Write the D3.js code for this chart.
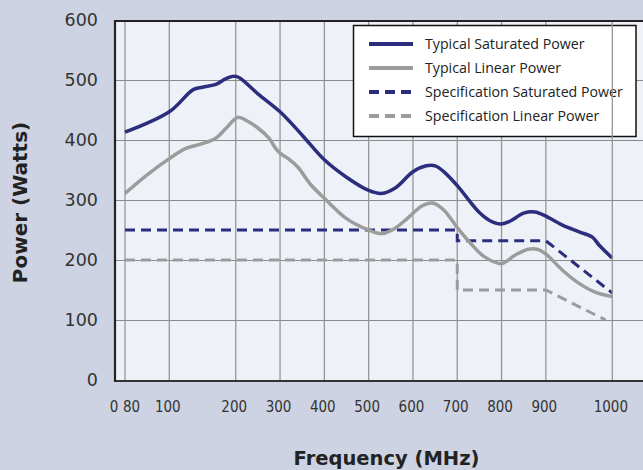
<!DOCTYPE html>
<html><head><meta charset="utf-8">
<script src="https://cdn.jsdelivr.net/npm/d3@7"></script>
<style>
html,body{margin:0;padding:0;background:#cdd3e2;}
svg{display:block;}
</style></head>
<body>
<svg id="chart" width="643" height="470"></svg>
<script>
// ---------- data ----------
const freqTicks = [80, 100, 200, 300, 400, 500, 600, 700, 800, 900, 1000];
const freqTickLabels = ["80", "100", "200", "300", "400", "500", "600", "700", "800", "900", "1000"];
const powerTicks = [0, 100, 200, 300, 400, 500, 600];

const typSatFreq = [80, 100, 136, 150, 171, 183, 195, 200, 210, 250, 300, 350, 400, 450, 500, 529, 560, 600, 630, 650, 670, 700, 750, 775, 800, 820, 850, 875, 900, 925, 950, 970, 980, 1000];
const typSatPower = [413, 447, 484, 488, 493, 501, 506, 506, 503, 477, 447, 408, 367, 338, 316, 311, 320, 347, 357, 357, 347, 324, 279, 265, 260, 265, 278, 280, 273, 258, 247, 238, 225, 203];

const typLinFreq = [80, 90, 100, 125, 150, 170, 185, 205, 225, 250, 275, 290, 300, 320, 340, 370, 400, 450, 500, 530, 560, 590, 620, 645, 670, 700, 730, 760, 800, 830, 860, 880, 900, 925, 950, 975, 1000];
const typLinPower = [311, 342, 369, 386, 394, 403, 419, 438, 432, 420, 403, 386, 378, 368, 355, 325, 303, 269, 250, 244, 253, 271, 290, 295, 283, 254, 228, 206, 194, 208, 218, 218, 210, 183, 161, 146, 139];

const specSatFreq = [80, 700, 700, 900, 1000];
const specSatPower = [250, 250, 232, 232, 145];

const specLinFreq = [80, 700, 700, 900, 990];
const specLinPower = [200, 200, 150, 150, 100];

const seriesNames = ["Typical Saturated Power", "Typical Linear Power", "Specification Saturated Power", "Specification Linear Power"];

// ---------- layout ----------
const W = 643, H = 470;
const plotL = 115, plotT = 21, plotB = 380, plotR = 660;
const navy = "#2c2d7d", gray = "#9c9c9c";

// tick slots (uneven spacing as in the reference)
const slots = [0, 1, 2.5, 3.5, 4.5, 5.5, 6.5, 7.5, 8.5, 9.5, 11];
const step = 44.3, x0 = 125;
const x = d3.scaleLinear().domain(freqTicks).range(slots.map(s => x0 + s * step));
const y = d3.scaleLinear().domain([0, 600]).range([plotB, plotT - 1]);

const svg = d3.select("#chart");
svg.append("rect").attr("width", W).attr("height", H).attr("fill", "#cdd3e2");
svg.append("rect").attr("x", plotL).attr("y", plotT).attr("width", plotR - plotL).attr("height", plotB - plotT).attr("fill", "#eef2f8");

// horizontal grid
svg.append("g").selectAll("line").data(powerTicks.filter(d => d > 0 && d < 600)).join("line")
  .attr("x1", plotL).attr("x2", plotR)
  .attr("y1", d => Math.round(y(d)) + 0.5).attr("y2", d => Math.round(y(d)) + 0.5)
  .attr("stroke", "#8a8a8a").attr("stroke-width", 1);

// vertical grid (all but last; last drawn above legend)
const vGrid = svg.append("g");
vGrid.selectAll("line").data(freqTicks.slice(0, -1)).join("line")
  .attr("x1", d => x(d)).attr("x2", d => x(d))
  .attr("y1", plotT).attr("y2", plotB)
  .attr("stroke", "#969696").attr("stroke-width", 1.3);

// series
const lineGen = d3.line().x(d => x(d[0])).y(d => y(d[1]));
function zip(a, b) { return a.map((v, i) => [v, b[i]]); }

svg.append("path").datum(zip(specLinFreq, specLinPower))
  .attr("d", lineGen)
  .attr("fill", "none").attr("stroke", gray).attr("stroke-width", 3).attr("stroke-dasharray", "10,6");
svg.append("path").datum(zip(specSatFreq, specSatPower))
  .attr("d", lineGen)
  .attr("fill", "none").attr("stroke", navy).attr("stroke-width", 3).attr("stroke-dasharray", "10,6");

const smooth = d3.line().x(d => x(d[0])).y(d => y(d[1])).curve(d3.curveCatmullRom.alpha(0.5));
svg.append("path").datum(zip(typLinFreq, typLinPower))
  .attr("d", smooth).attr("fill", "none").attr("stroke", gray).attr("stroke-width", 3.5)
  .attr("stroke-linejoin", "round");
svg.append("path").datum(zip(typSatFreq, typSatPower))
  .attr("d", smooth).attr("fill", "none").attr("stroke", navy).attr("stroke-width", 3.5)
  .attr("stroke-linejoin", "round");

// legend
const lg = svg.append("g");
lg.append("rect").attr("x", 353.5).attr("y", 25.5).attr("width", 282.5).attr("height", 111)
  .attr("fill", "#ffffff").attr("stroke", "#111").attr("stroke-width", 1.5);
const legStyles = [
  {c: navy, dash: null}, {c: gray, dash: null}, {c: navy, dash: "10,6"}, {c: gray, dash: "10,6"}
];
const legTexts = [];
seriesNames.forEach((name, i) => {
  const ly = 44 + i * 24;
  lg.append("line").attr("x1", 369).attr("x2", 413).attr("y1", ly).attr("y2", ly)
    .attr("stroke", legStyles[i].c).attr("stroke-width", 4)
    .attr("stroke-dasharray", legStyles[i].dash);
  const t = lg.append("text").attr("transform", `translate(425,${ly + 5})`)
    .attr("font-family", "'Open Sans', 'Noto Sans', sans-serif").attr("font-size", 14.5)
    .attr("fill", "#222").text(name);
  legTexts.push(t);
});
// compress text horizontally to match the condensed face of the original
const natural = legTexts[2].node().getComputedTextLength();
const k = 198 / natural;
legTexts.forEach((t, i) => t.attr("transform", `translate(425,${44 + i * 24 + 5}) scale(${k},1)`));

// last vertical gridline over legend
svg.append("line").attr("x1", x(1000)).attr("x2", x(1000)).attr("y1", plotT).attr("y2", plotB)
  .attr("stroke", "#969696").attr("stroke-width", 1.3);

// borders
svg.append("line").attr("x1", plotL).attr("x2", W).attr("y1", plotT).attr("y2", plotT)
  .attr("stroke", "#222").attr("stroke-width", 2);
svg.append("line").attr("x1", plotL).attr("x2", W).attr("y1", plotB + 1).attr("y2", plotB + 1)
  .attr("stroke", "#333").attr("stroke-width", 2);
svg.append("line").attr("x1", plotL).attr("x2", plotL).attr("y1", plotT - 1).attr("y2", plotB + 2)
  .attr("stroke", "#222").attr("stroke-width", 2.2);

// y axis labels
const yAxis = d3.axisLeft(y).tickValues(powerTicks).tickSize(0).tickPadding(17).tickFormat(d3.format("d"));
const yg = svg.append("g").attr("transform", `translate(${plotL},0)`).call(yAxis);
yg.select(".domain").remove();
yg.selectAll("text").attr("font-family", "'DejaVu Sans', sans-serif").attr("font-size", 17.5).attr("fill", "#333");

// x axis labels
const xg = svg.append("g").attr("font-family", "'DejaVu Sans Condensed', 'DejaVu Sans', sans-serif")
  .attr("font-stretch", "condensed").attr("font-size", 15).attr("fill", "#333").attr("text-anchor", "middle");
xg.append("text").attr("x", plotL - 1).attr("y", 412).text("0");
xg.selectAll("text.tk").data(freqTicks).join("text").attr("class", "tk")
  .attr("x", (d, i) => x(d) + (i === 0 ? 6.5 : -1.5)).attr("y", 412)
  .text((d, i) => freqTickLabels[i]);

// axis titles
const titleFont = "'DejaVu Sans', sans-serif";
svg.append("text").attr("x", 386.5).attr("y", 465)
  .attr("text-anchor", "middle").attr("font-family", titleFont)
  .attr("font-weight", "bold").attr("font-size", 19.5).attr("fill", "#222")
  .text("Frequency (MHz)");
svg.append("text").attr("transform", "translate(27,202.5) rotate(-90)")
  .attr("text-anchor", "middle").attr("font-family", titleFont)
  .attr("font-weight", "bold").attr("font-size", 20).attr("fill", "#222")
  .text("Power (Watts)");
</script>
</body></html>
